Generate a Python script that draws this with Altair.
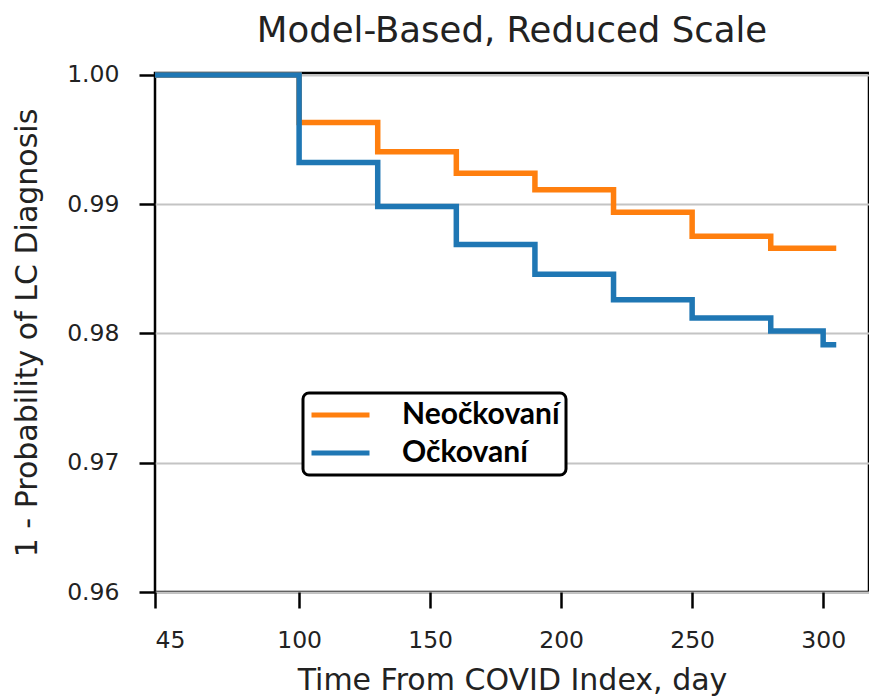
import altair as alt
import pandas as pd

series_names = ["Neočkovaní", "Očkovaní"]
series_colors = ["#ff7f0e", "#1f77b4"]

unvacc_days = [45, 100, 130, 160, 190, 220, 250, 280, 305]
unvacc_surv = [1.0, 0.99632, 0.99406, 0.99240, 0.99112, 0.98937, 0.98752, 0.98660, 0.98660]

vacc_days = [45, 100, 130, 160, 190, 220, 250, 280, 300, 305]
vacc_surv = [1.0, 0.99322, 0.98983, 0.98688, 0.98458, 0.98260, 0.98119, 0.98020, 0.97913, 0.97913]

x_ticks = [45, 100, 150, 200, 250, 300]
y_ticks = [0.96, 0.97, 0.98, 0.99, 1.00]

rows = []
for d, s in zip(unvacc_days, unvacc_surv):
    rows.append({"day": d, "surv": s, "group": series_names[0]})
for d, s in zip(vacc_days, vacc_surv):
    rows.append({"day": d, "surv": s, "group": series_names[1]})
df = pd.DataFrame(rows)

chart = alt.Chart(df).mark_line(interpolate="step-after", strokeWidth=5.5).encode(
    x=alt.X("day:Q",
            scale=alt.Scale(domain=[45, 317.5], nice=False, zero=False),
            axis=alt.Axis(values=x_ticks, title="Time From COVID Index, day", grid=False)),
    y=alt.Y("surv:Q",
            scale=alt.Scale(domain=[0.96, 1.00015], nice=False, zero=False),
            axis=alt.Axis(values=y_ticks, format=".2f",
                          title="1 - Probability of LC Diagnosis", grid=True)),
    color=alt.Color("group:N",
                    scale=alt.Scale(domain=series_names, range=series_colors),
                    legend=alt.Legend(title=None, orient="none", legendX=148, legendY=320)),
).properties(
    width=714,
    height=519,
    title=alt.TitleParams("Model-Based, Reduced Scale", anchor="middle"),
    autosize=alt.AutoSizeParams(type="none"),
    padding={"left": 147, "top": 65, "right": 0, "bottom": 108},
).configure_view(
    stroke="black", strokeWidth=2.5
).configure_axis(
    labelFont="DejaVu Sans", labelFontSize=23.5, labelColor="#222222",
    titleFont="DejaVu Sans", titleFontSize=30, titleFontWeight="normal", titleColor="#222222",
    tickColor="black", tickWidth=2.5, tickSize=16, labelPadding=20,
    domain=False, gridColor="#c4c4c4", gridWidth=2,
).configure_axisX(
    titlePadding=14
).configure_axisY(
    titlePadding=24
).configure_title(
    font="DejaVu Sans", fontSize=35.5, fontWeight="normal", color="#222222", offset=13
).configure_legend(
    labelFont="Lato", labelFontWeight="bold", labelFontSize=30, labelColor="black",
    symbolType="stroke", symbolSize=3364, symbolStrokeWidth=5,
    clipHeight=32, rowPadding=6, padding=6,
    fillColor="white", strokeColor="black", strokeWidth=3, cornerRadius=6,
    labelOffset=30,
)

chart.save("out.html", embed_options={"renderer": "svg", "actions": False})
